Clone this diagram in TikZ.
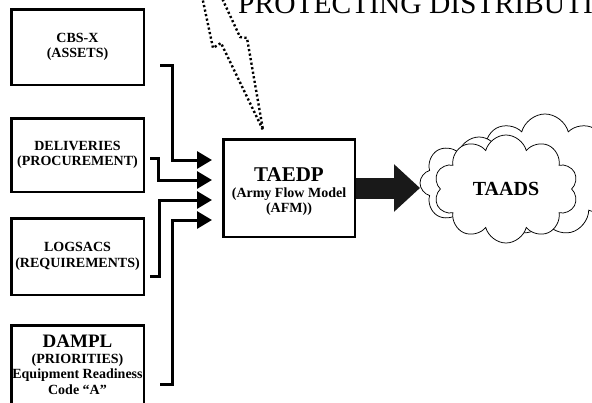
\documentclass[tikz,border=0pt]{standalone}
\usepackage{fontspec}
\setmainfont{Liberation Serif}
\usetikzlibrary{arrows.meta,shapes.symbols,calc}
\begin{document}
\begin{tikzpicture}[x=1pt,y=-1pt,
  srcbox/.style={draw, line width=2.5pt, minimum width=132.5pt, align=center,
    inner sep=0pt, font=\bfseries\fontsize{14}{15.5}\selectfont},
  feed/.style={line width=3pt, -{Triangle[length=15pt,width=17pt]}},
  bigarrow/.style={line width=21pt, draw=black!90, -{Triangle[length=26pt,width=46pt]}},
  boltline/.style={line width=2.4pt, dash pattern=on 2.2pt off 2.4pt, line join=miter},
  puff/.style={cloud, cloud ignores aspect, draw, line width=0.75pt, fill=white}]
\clip (0,0) rectangle (592,402);
\fill[white] (0,0) rectangle (592,402);

% heading, partly outside the page
\node[anchor=base west, inner sep=0pt, font=\fontsize{29.5}{31}\selectfont] (title) at (238,13) {PROTECTING DISTRIBUTION};

% source systems
\node[srcbox, minimum height=75.5pt] (cbs) at (77.5,47) {CBS-X\\(ASSETS)};
\node[srcbox, minimum height=73.5pt] (deliv) at (77.5,155) {DELIVERIES\\(PROCUREMENT)};
\node[srcbox, minimum height=76.5pt] (logsacs) at (77.5,256.5) {LOGSACS\\(REQUIREMENTS)};
\node[srcbox, minimum height=79.5pt] (dampl) at (77.5,365) {{\fontsize{19}{20}\selectfont DAMPL}\\(PRIORITIES)\\Equipment Readiness\\Code “A”};

% flow model
\node[draw, line width=2.5pt, minimum width=131.5pt, minimum height=97.5pt] (taedp) at (289,188) {};
\node[align=center, inner sep=0pt, font=\bfseries\fontsize{14}{15.5}\selectfont] (taedptext)
  at ($(taedp.center)+(0,4)$) {{\fontsize{21}{22}\selectfont TAEDP}\\(Army Flow Model\\(AFM))};

% TAADS cloud, drawn back to front
\node[puff, cloud puffs=9, minimum width=152pt, minimum height=122pt] (cloudback) at (545,175) {};
\node[puff, cloud puffs=8, minimum width=118pt, minimum height=92pt] (cloudmid) at (479,183) {};
\node[puff, cloud puffs=10, minimum width=144pt, minimum height=108pt,
  font=\bfseries\fontsize{20}{22}\selectfont] (taads) at (506,189) {TAADS};

% feeds into the flow model
\draw[feed] ($(cbs.east)+(15,18)$) -| ($(taedp.west)+(-50,-28)$) -- ($(taedp.west)+(-10,-28)$);
\draw[feed] ($(deliv.east)+(5,3)$) -| ($(taedp.west)+(-64,-8)$) -- ($(taedp.west)+(-10,-8)$);
\draw[feed] ($(logsacs.east)+(5,19.5)$) -| ($(taedp.west)+(-63,12)$) -- ($(taedp.west)+(-10,12)$);
\draw[feed] ($(dampl.east)+(15,19)$) -| ($(taedp.west)+(-50,32)$) -- ($(taedp.west)+(-10,32)$);

% output to TAADS
\coordinate (taadsin) at ($(taedp.east)+(64,0)$);
\draw[bigarrow] (taedp.east) -- (taadsin);

% dotted bolt striking the flow model
\coordinate (bolttip) at ($(taedp.north)+(-26,-8)$);
\draw[boltline] (202,-4) -- (213,48) -- (221,43) -- (bolttip) -- (247,38) -- (240,37) -- (221,-4);
\end{tikzpicture}
\end{document}
